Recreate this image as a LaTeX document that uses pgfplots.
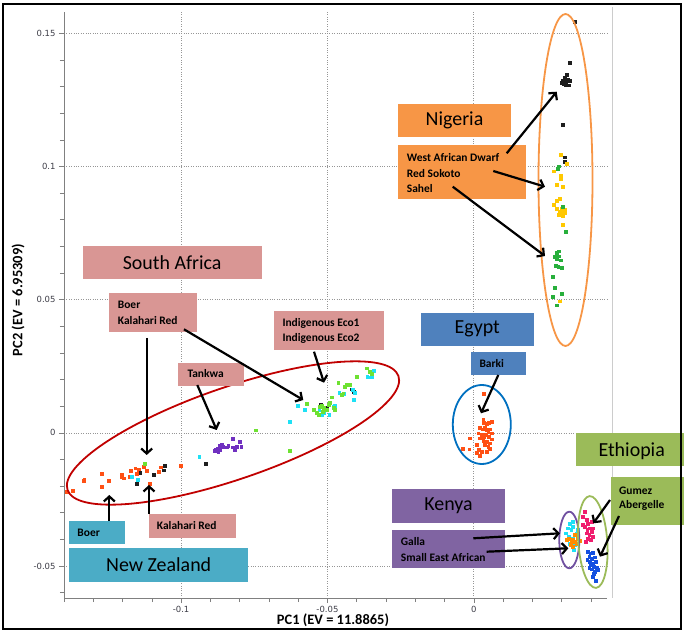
\documentclass[border=0pt]{standalone}
\usepackage{fontspec}
\setmainfont{Carlito}
\newfontfamily\tickfont{DejaVu Sans}
\usepackage{pgfplots}
\pgfplotsset{compat=1.18}
\usetikzlibrary{arrows.meta}

\definecolor{axgray}{RGB}{128,128,128}
\definecolor{gridgray}{RGB}{150,150,150}
\definecolor{tickcol}{RGB}{60,60,70}
\definecolor{boxpink}{RGB}{217,150,148}
\definecolor{boxorange}{RGB}{247,150,70}
\definecolor{boxblue}{RGB}{79,129,189}
\definecolor{boxgreen}{RGB}{155,187,89}
\definecolor{boxpurple}{RGB}{128,100,162}
\definecolor{boxteal}{RGB}{75,172,198}
\definecolor{ellred}{RGB}{192,0,0}
\definecolor{ellblue}{RGB}{0,112,192}
\definecolor{ellorange}{RGB}{247,150,70}
\definecolor{ellpurple}{RGB}{112,80,160}
\definecolor{ellgreen}{RGB}{155,187,89}
\definecolor{ptred}{RGB}{255,80,20}
\definecolor{ptcyan}{RGB}{30,225,245}
\definecolor{ptlgreen}{RGB}{110,225,50}
\definecolor{ptpurple}{RGB}{112,48,192}
\definecolor{ptyellow}{RGB}{255,200,0}
\definecolor{ptgreen}{RGB}{40,175,60}
\definecolor{ptorange}{RGB}{255,140,0}
\definecolor{ptpink}{RGB}{240,30,110}
\definecolor{ptblue}{RGB}{20,80,225}
\definecolor{ptblack}{RGB}{30,30,30}

\tikzset{
  lab/.style={font=\bfseries\fontsize{11.5}{15}\selectfont, anchor=west, inner sep=0pt},
  big/.style={font=\fontsize{20}{22}\selectfont, inner sep=0pt},
  arr/.style={line width=2.2bp, -{Straight Barb[length=5bp,width=11bp]}},
}

\begin{document}
\begin{tikzpicture}
\useasboundingbox (0,0) rectangle (684bp,633bp);
\draw[black!20, line width=0.8bp] (612bp,35bp) -- (612bp,626bp);
\begin{axis}[
  at={(64bp,35bp)}, anchor=south west,
  scale only axis, width=543bp, height=586bp,
  xmin=-0.14, xmax=0.0455, ymin=-0.062, ymax=0.158,
  axis x line*=bottom, axis y line*=left,
  axis line style={draw=axgray, line width=0.8bp, -},
  xtick={-0.1,-0.05,0}, xticklabels={-0.1,-0.05,0},
  ytick={-0.05,0,0.05,0.1,0.15}, yticklabels={-0.05,0,0.05,0.1,0.15},
  minor xtick={-0.14,-0.13,-0.12,-0.11,-0.09,-0.08,-0.07,-0.06,-0.04,-0.03,-0.02,-0.01,0.01,0.02,0.03,0.04},
  minor ytick={-0.06,-0.04,-0.03,-0.02,-0.01,0.01,0.02,0.03,0.04,0.06,0.07,0.08,0.09,0.11,0.12,0.13,0.14},
  tick align=outside, major tick length=5bp, minor tick length=4bp,
  tick style={axgray, line width=0.6bp},
  grid=major, major grid style={gridgray, dotted, line width=0.7bp},
  ticklabel style={font=\tickfont\fontsize{8.5}{9}\selectfont, text=tickcol},
  mark size=1.4bp,
]
% South Africa: Boer
\addplot[only marks, mark=square*, color=ptred] coordinates {
(-0.1390,-0.0220) (-0.1369,-0.0217) (-0.1333,-0.0180) (-0.1331,-0.0177)
(-0.1271,-0.0152) (-0.1271,-0.0202) (-0.1248,-0.0179) (-0.1202,-0.0158)
(-0.1197,-0.0170) (-0.1176,-0.0164) (-0.1172,-0.0142) (-0.1157,-0.0133)
(-0.1146,-0.0139) (-0.1151,-0.0154) (-0.1129,-0.0127) (-0.1117,-0.0142)
(-0.1106,-0.0192) (-0.1077,-0.0145) (-0.1069,-0.0129) (-0.1001,-0.0124)
(-0.1202,-0.0165)
};
% South Africa: Kalahari Red
\addplot[only marks, mark=square*, color=ptblack] coordinates {
(-0.1140,-0.0149) (-0.1151,-0.0192) (-0.1094,-0.0158) (-0.1060,-0.0140)
(-0.1055,-0.0124) (-0.0916,-0.0117) (-0.0524,0.0105) (-0.0516,0.0096)
(-0.0509,0.0086) (-0.0503,0.0093) (-0.0418,0.0164) (-0.0410,0.0155)
};
% South Africa: Indigenous Eco1
\addplot[only marks, mark=square*, color=ptcyan] coordinates {
(-0.1168,-0.0164) (-0.1149,-0.0177) (-0.0938,-0.0091) (-0.0630,0.0043)
(-0.0603,0.0101) (-0.0577,0.0086) (-0.0528,0.0086) (-0.0520,0.0068)
(-0.0512,0.0074) (-0.0494,0.0068) (-0.0480,0.0099) (-0.0474,0.0101)
(-0.0491,0.0111) (-0.0460,0.0152) (-0.0444,0.0147) (-0.0414,0.0162)
(-0.0410,0.0124) (-0.0406,0.0152) (-0.0364,0.0212) (-0.0355,0.0209)
(-0.0349,0.0212) (-0.0341,0.0234)
};
% South Africa: Indigenous Eco2
\addplot[only marks, mark=square*, color=ptlgreen] coordinates {
(-0.1123,-0.0117) (-0.0744,0.0010) (-0.0630,-0.0066) (-0.0571,0.0109)
(-0.0546,0.0086) (-0.0537,0.0076) (-0.0531,0.0068) (-0.0526,0.0099)
(-0.0520,0.0101) (-0.0512,0.0093) (-0.0516,0.0080) (-0.0503,0.0086)
(-0.0497,0.0105) (-0.0491,0.0114) (-0.0486,0.0134) (-0.0480,0.0093)
(-0.0474,0.0086) (-0.0463,0.0189) (-0.0452,0.0143) (-0.0446,0.0149)
(-0.0440,0.0172) (-0.0435,0.0180) (-0.0423,0.0180) (-0.0400,0.0212)
(-0.0366,0.0243) (-0.0355,0.0231) (-0.0349,0.0222)
};
% South Africa: Tankwa
\addplot[only marks, mark=square*, color=ptpurple] coordinates {
(-0.0884,-0.0068) (-0.0876,-0.0058) (-0.0869,-0.0049) (-0.0861,-0.0054)
(-0.0867,-0.0064) (-0.0856,-0.0051) (-0.0844,-0.0054) (-0.0839,-0.0049)
(-0.0824,-0.0023) (-0.0824,-0.0054) (-0.0816,-0.0064) (-0.0810,-0.0051)
(-0.0801,-0.0033) (-0.0795,-0.0051) (-0.0881,-0.0064) (-0.0861,-0.0045)
(-0.0873,-0.0070)
};
% Nigeria: West African Dwarf
\addplot[only marks, mark=square*, color=ptblack] coordinates {
(0.0345,0.1544) (0.0328,0.1390) (0.0299,0.1315) (0.0305,0.1324)
(0.0311,0.1333) (0.0316,0.1346) (0.0322,0.1327) (0.0328,0.1321)
(0.0314,0.1308) (0.0325,0.1305) (0.0314,0.1317) (0.0307,0.1312)
(0.0303,0.1158) (0.0311,0.1035) (0.0311,0.1018)
};
% Nigeria: Red Sokoto
\addplot[only marks, mark=square*, color=ptyellow] coordinates {
(0.0296,0.1044) (0.0316,0.1011) (0.0274,0.0982) (0.0296,0.0964)
(0.0296,0.0955) (0.0282,0.0932) (0.0303,0.0924) (0.0294,0.0878)
(0.0284,0.0873) (0.0274,0.0857) (0.0284,0.0841) (0.0294,0.0832)
(0.0299,0.0826) (0.0305,0.0832) (0.0311,0.0826) (0.0291,0.0820)
(0.0303,0.0816) (0.0311,0.0838) (0.0299,0.0841) (0.0305,0.0782)
(0.0294,0.0494)
};
% Nigeria: Sahel
\addplot[only marks, mark=square*, color=ptgreen] coordinates {
(0.0291,0.1001) (0.0286,0.0991) (0.0303,0.0848) (0.0314,0.0754)
(0.0291,0.0682) (0.0282,0.0675) (0.0276,0.0660) (0.0284,0.0653)
(0.0291,0.0663) (0.0296,0.0648) (0.0280,0.0628) (0.0288,0.0623)
(0.0299,0.0619) (0.0270,0.0585) (0.0276,0.0544) (0.0299,0.0523)
(0.0270,0.0510) (0.0282,0.0479)
};
% Egypt: Barki
\addplot[only marks, mark=square*, color=ptred] coordinates {
(0.0032,0.0049) (0.0034,0.0039) (0.0043,0.0034) (0.0052,0.0039)
(0.0060,0.0043) (0.0020,0.0018) (0.0030,0.0014) (0.0038,0.0018)
(0.0043,0.0011) (0.0049,0.0005) (0.0055,0.0014) (0.0060,-0.0001)
(0.0015,-0.0001) (0.0026,-0.0008) (0.0034,-0.0014) (0.0041,-0.0008)
(0.0052,-0.0014) (0.0060,-0.0024) (0.0020,-0.0020) (0.0032,-0.0029)
(0.0043,-0.0033) (0.0055,-0.0039) (0.0049,-0.0051) (0.0038,-0.0045)
(-0.0014,-0.0020) (-0.0039,-0.0058) (-0.0016,-0.0061) (0.0009,-0.0045)
(0.0018,-0.0064) (0.0026,-0.0070) (0.0011,-0.0076) (0.0020,-0.0086)
(0.0045,-0.0070) (0.0055,-0.0058) (0.0035,0.0147)
};
% Kenya: Galla
\addplot[only marks, mark=square*, color=ptcyan] coordinates {
(0.0328,-0.0340) (0.0339,-0.0333) (0.0322,-0.0358) (0.0333,-0.0365)
(0.0314,-0.0377) (0.0325,-0.0390) (0.0339,-0.0396) (0.0328,-0.0415)
(0.0345,-0.0421) (0.0341,-0.0440) (0.0356,-0.0365) (0.0350,-0.0377)
(0.0337,-0.0352)
};
% Kenya: Small East African
\addplot[only marks, mark=square*, color=ptorange] coordinates {
(0.0325,-0.0396) (0.0333,-0.0405) (0.0339,-0.0400) (0.0345,-0.0409)
(0.0330,-0.0421) (0.0337,-0.0427) (0.0350,-0.0415) (0.0362,-0.0405)
(0.0316,-0.0402) (0.0356,-0.0396) (0.0345,-0.0383)
};
% Ethiopia: Gumez
\addplot[only marks, mark=square*, color=ptpink] coordinates {
(0.0379,-0.0296) (0.0373,-0.0315) (0.0385,-0.0327) (0.0390,-0.0340)
(0.0379,-0.0352) (0.0387,-0.0365) (0.0396,-0.0358) (0.0402,-0.0371)
(0.0385,-0.0377) (0.0394,-0.0383) (0.0405,-0.0390) (0.0398,-0.0402)
(0.0390,-0.0396) (0.0373,-0.0346) (0.0407,-0.0358) (0.0382,-0.0409)
(0.0402,-0.0333)
};
% Ethiopia: Abergelle
\addplot[only marks, mark=square*, color=ptblue] coordinates {
(0.0390,-0.0446) (0.0398,-0.0452) (0.0407,-0.0450) (0.0394,-0.0465)
(0.0402,-0.0471) (0.0413,-0.0467) (0.0387,-0.0477) (0.0396,-0.0484)
(0.0405,-0.0490) (0.0416,-0.0484) (0.0398,-0.0496) (0.0410,-0.0503)
(0.0402,-0.0512) (0.0419,-0.0505) (0.0394,-0.0505) (0.0413,-0.0521)
(0.0424,-0.0515) (0.0405,-0.0540) (0.0416,-0.0556) (0.0410,-0.0530)
};
\end{axis}

\begin{scope}[x=1bp,y=1bp]
% axis titles
\node[font=\bfseries\fontsize{14.5}{15}\selectfont] at (333,13) {PC1 (EV = 11.8865)};
\node[font=\bfseries\fontsize{14.5}{15}\selectfont, rotate=90] at (18,333) {PC2 (EV = 6.95309)};

% ellipses
\draw[ellred, line width=1.8bp, rotate around={19:(233,200)}] (233,200) ellipse [x radius=175bp, y radius=46bp];
\draw[ellorange, line width=1.8bp] (565.5,453) ellipse [x radius=27bp, y radius=166bp];
\draw[ellblue, line width=1.8bp] (481.8,208.5) ellipse [x radius=29bp, y radius=39.5bp];
\draw[ellpurple, line width=1.8bp] (569.3,93) ellipse [x radius=10bp, y radius=28.3bp];
\draw[ellgreen, line width=1.8bp, rotate around={4:(592.8,91)}] (592.8,91) ellipse [x radius=14.5bp, y radius=46bp];

% Nigeria
\fill[boxorange] (398.3,495.7) rectangle (510.7,528.7);
\node[big] at (454.5,512.2) {Nigeria};
\fill[boxorange] (398.3,434) rectangle (525.7,488);
\node[lab] at (406.7,475.3) {West African Dwarf};
\node[lab] at (406.7,459.7) {Red Sokoto};
\node[lab] at (406.7,444.7) {Sahel};
\draw[arr] (506.7,479.7) -- (556.7,541.3);
\draw[arr] (493.3,462) -- (545,446.3);
\draw[arr] (452.7,446.3) -- (545,377);

% South Africa
\fill[boxpink] (82.7,354.3) rectangle (261.7,387.3);
\node[big] at (172.2,370.8) {South Africa};
\fill[boxpink] (109.3,301) rectangle (196.7,339.7);
\node[lab] at (117.7,328) {Boer};
\node[lab] at (117.7,312.3) {Kalahari Red};
\fill[boxpink] (274,283) rectangle (384.3,322);
\node[lab] at (282.3,309.7) {Indigenous Eco1};
\node[lab] at (282.3,294.7) {Indigenous Eco2};
\fill[boxpink] (178.3,247) rectangle (244,270.3);
\node[lab] at (187.3,259) {Tankwa};
\draw[arr] (146.7,295) -- (146.7,178);
\draw[arr] (184,303.7) -- (303.3,233);
\draw[arr] (314,281.3) -- (324,250.3);
\draw[arr] (197.3,248) -- (216.7,203);

% Egypt
\fill[boxblue] (420.7,287) rectangle (534,320.3);
\node[big] at (477.3,303.7) {Egypt};
\fill[boxblue] (471,258) rectangle (525.7,281.3);
\node[lab] at (479.3,269.7) {Barki};
\draw[arr] (498.3,258) -- (481,219.7);

% Ethiopia
\fill[boxgreen] (575.7,167) rectangle (684,199.7);
\node[big] at (631.7,182.3) {Ethiopia};
\fill[boxgreen] (610.7,108) rectangle (684,155.7);
\node[lab] at (619,142.3) {Gumez};
\node[lab] at (619,127.3) {Abergelle};
\draw[arr] (610,133) -- (593.3,109.7);
\draw[arr] (619,117) -- (600,76.3);

% Kenya
\fill[boxpurple] (392.3,110.3) rectangle (505,143.7);
\node[big] at (448.6,127) {Kenya};
\fill[boxpurple] (392.3,64.7) rectangle (505,103);
\node[lab] at (400.7,91.3) {Galla};
\node[lab] at (400.7,75.3) {Small East African};
\draw[arr] (473.3,94.7) -- (560,99.7);
\draw[arr] (486.7,81.3) -- (568.3,84.7);

% New Zealand
\fill[boxteal] (69,51.3) rectangle (248.3,84.7);
\node[big] at (158.7,68) {New Zealand};
\fill[boxteal] (69,88.7) rectangle (125.3,112.3);
\node[lab] at (77.3,100) {Boer};
\fill[boxpink] (149,95.3) rectangle (235.7,119);
\node[lab] at (156.7,107.3) {Kalahari Red};
\draw[arr] (109.3,112.3) -- (109.3,138);
\draw[arr] (149,119) -- (149,148);

% frame
\draw[black, line width=2.5bp] (3,4) rectangle (681,629);
\end{scope}
\end{tikzpicture}
\end{document}
